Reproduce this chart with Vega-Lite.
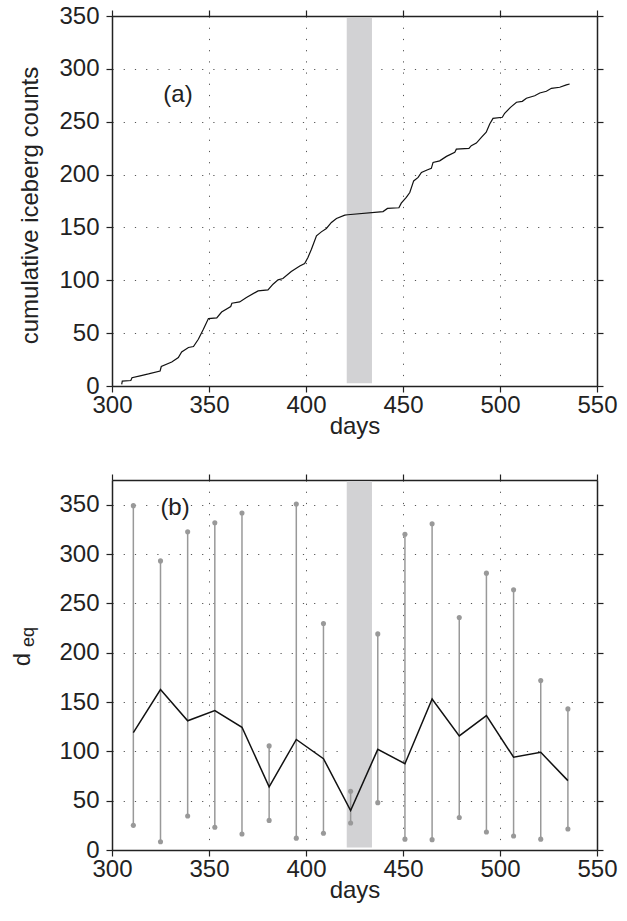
{
  "$schema": "https://vega.github.io/schema/vega-lite/v6.json",
  "padding": {"left": 10, "top": 4, "right": 5, "bottom": 5},
  "background": "white",
  "spacing": 94,
  "bounds": "flush",
  "config": {
    "font": "Liberation Sans",
    "view": {"stroke": null},
    "axis": {
      "domainColor": "#222", "domainWidth": 1.5,
      "tickColor": "#222", "tickWidth": 1.2, "tickSize": 6,
      "labelFontSize": 24, "labelColor": "#222",
      "titleFontSize": 24, "titleFontWeight": "normal", "titleColor": "#222",
      "labelFlush": false, "labelOverlap": false,
      "gridColor": "#555", "gridDash": [1.2, 10], "gridWidth": 1
    }
  },
  "datasets": {
    "cum": [
      {"day": 305.0, "count": 1.6}, {"day": 305.3, "count": 4.7}, {"day": 309.7, "count": 5.2}, {"day": 310.3, "count": 7.9},
      {"day": 314.5, "count": 9.6}, {"day": 318.8, "count": 11.4}, {"day": 324.8, "count": 14.2}, {"day": 325.4, "count": 18.4},
      {"day": 330.8, "count": 22.7}, {"day": 334.2, "count": 26.9}, {"day": 335.9, "count": 32.2}, {"day": 339.4, "count": 36.4},
      {"day": 342.0, "count": 37.3}, {"day": 344.5, "count": 44.2}, {"day": 347.1, "count": 53.7}, {"day": 349.7, "count": 63.8},
      {"day": 354.0, "count": 64.4}, {"day": 356.5, "count": 70.0}, {"day": 361.2, "count": 75.2}, {"day": 361.8, "count": 78.3},
      {"day": 365.8, "count": 79.5}, {"day": 369.3, "count": 83.7}, {"day": 375.3, "count": 90.0}, {"day": 380.4, "count": 90.9},
      {"day": 383.0, "count": 96.3}, {"day": 385.6, "count": 100.4}, {"day": 388.1, "count": 101.7}, {"day": 392.4, "count": 108.3},
      {"day": 396.8, "count": 113.6}, {"day": 399.3, "count": 115.9}, {"day": 401.0, "count": 121.6}, {"day": 402.8, "count": 129.4},
      {"day": 405.4, "count": 142.0}, {"day": 407.9, "count": 145.8}, {"day": 410.5, "count": 149.0}, {"day": 413.1, "count": 154.7},
      {"day": 415.7, "count": 158.5}, {"day": 420.0, "count": 161.6}, {"day": 421.5, "count": 162.0}, {"day": 439.7, "count": 165.0},
      {"day": 442.0, "count": 168.0}, {"day": 447.9, "count": 168.6}, {"day": 449.1, "count": 173.0}, {"day": 451.7, "count": 178.4},
      {"day": 453.5, "count": 183.0}, {"day": 455.5, "count": 194.0}, {"day": 457.8, "count": 197.3}, {"day": 459.5, "count": 202.0},
      {"day": 462.4, "count": 204.3}, {"day": 464.6, "count": 205.9}, {"day": 465.5, "count": 211.5}, {"day": 468.9, "count": 213.0},
      {"day": 472.4, "count": 217.2}, {"day": 476.7, "count": 221.0}, {"day": 477.5, "count": 224.0}, {"day": 484.0, "count": 224.8},
      {"day": 485.2, "count": 227.3}, {"day": 487.8, "count": 229.8}, {"day": 490.4, "count": 235.2}, {"day": 492.9, "count": 240.0},
      {"day": 494.7, "count": 247.8}, {"day": 496.4, "count": 253.2}, {"day": 501.2, "count": 254.2}, {"day": 502.4, "count": 258.0},
      {"day": 505.4, "count": 263.6}, {"day": 508.5, "count": 268.4}, {"day": 511.5, "count": 269.3}, {"day": 513.6, "count": 272.2},
      {"day": 517.9, "count": 274.6}, {"day": 520.5, "count": 277.2}, {"day": 523.9, "count": 278.8}, {"day": 526.5, "count": 281.6},
      {"day": 530.8, "count": 282.6}, {"day": 534.2, "count": 284.8}, {"day": 535.9, "count": 285.7}
    ],
    "deq": [
      {"day": 311, "mean": 119, "lo": 25, "hi": 349},
      {"day": 325, "mean": 162.6, "lo": 8.4, "hi": 293},
      {"day": 339, "mean": 131, "lo": 34.5, "hi": 322.5},
      {"day": 353, "mean": 141.3, "lo": 23, "hi": 331.6},
      {"day": 367, "mean": 124.4, "lo": 16.2, "hi": 341.5},
      {"day": 381, "mean": 64, "lo": 30, "hi": 105.5},
      {"day": 395, "mean": 112, "lo": 12, "hi": 350.6},
      {"day": 409, "mean": 92.6, "lo": 17, "hi": 229.5},
      {"day": 423, "mean": 40, "lo": 27.4, "hi": 59.5},
      {"day": 437, "mean": 102, "lo": 48, "hi": 219},
      {"day": 451, "mean": 87.5, "lo": 11, "hi": 320},
      {"day": 465, "mean": 153, "lo": 10.5, "hi": 330.6},
      {"day": 479, "mean": 115.6, "lo": 33, "hi": 235.6},
      {"day": 493, "mean": 136.2, "lo": 18.3, "hi": 280.6},
      {"day": 507, "mean": 94, "lo": 14.2, "hi": 263.7},
      {"day": 521, "mean": 99, "lo": 11, "hi": 171.7},
      {"day": 535, "mean": 70.3, "lo": 21.3, "hi": 143}
    ]
  },
  "vconcat": [
    {
      "width": 485,
      "height": 370,
      "resolve": {"axis": {"x": "independent", "y": "independent"}},
      "layer": [
        {
          "data": {"values": [{"start": 421, "end": 434, "low": 2.5, "high": 348}]},
          "mark": {"type": "rect", "color": "#d2d2d4"},
          "encoding": {
            "x": {"field": "start", "type": "quantitative", "scale": {"domain": [300, 550], "nice": false, "zero": false},
                  "axis": {"orient": "top", "labels": false, "grid": false, "title": null, "values": [300, 350, 400, 450, 500, 550]}},
            "x2": {"field": "end"},
            "y": {"field": "low", "type": "quantitative", "scale": {"domain": [0, 350], "nice": false},
                  "axis": {"orient": "right", "labels": false, "grid": false, "title": null, "values": [0, 50, 100, 150, 200, 250, 300, 350]}},
            "y2": {"field": "high"}
          }
        },
        {
          "data": {"name": "cum"},
          "mark": {"type": "line", "color": "#111", "strokeWidth": 1.2},
          "encoding": {
            "x": {"field": "day", "type": "quantitative", "scale": {"domain": [300, 550], "nice": false, "zero": false},
                  "axis": {"orient": "bottom", "grid": true, "values": [300, 350, 400, 450, 500, 550], "title": "days", "labelPadding": 1, "titlePadding": -3}},
            "y": {"field": "count", "type": "quantitative", "scale": {"domain": [0, 350], "nice": false},
                  "axis": {"orient": "left", "grid": true, "values": [0, 50, 100, 150, 200, 250, 300, 350], "title": "cumulative iceberg counts",
                           "labelPadding": 7, "titleAngle": 270, "titleX": -75, "titleY": 189, "titleAlign": "center", "titleBaseline": "alphabetic"}}
          }
        },
        {
          "data": {"values": [{"day": 334, "v": 275, "label": "(a)"}]},
          "mark": {"type": "text", "fontSize": 24, "color": "#222", "align": "center", "baseline": "middle"},
          "encoding": {
            "x": {"field": "day", "type": "quantitative", "axis": null},
            "y": {"field": "v", "type": "quantitative", "axis": null},
            "text": {"field": "label"}
          }
        }
      ]
    },
    {
      "width": 485,
      "height": 370,
      "resolve": {"axis": {"x": "independent", "y": "independent"}},
      "layer": [
        {
          "data": {"values": [{"start": 421, "end": 434, "low": 2.5, "high": 374}]},
          "mark": {"type": "rect", "color": "#d2d2d4"},
          "encoding": {
            "x": {"field": "start", "type": "quantitative", "scale": {"domain": [300, 550], "nice": false, "zero": false},
                  "axis": {"orient": "top", "labels": false, "grid": false, "title": null, "values": [300, 350, 400, 450, 500, 550]}},
            "x2": {"field": "end"},
            "y": {"field": "low", "type": "quantitative", "scale": {"domain": [0, 375], "nice": false},
                  "axis": {"orient": "right", "labels": false, "grid": false, "values": [0, 50, 100, 150, 200, 250, 300, 350],
                           "title": "eq", "titleFontSize": 18, "titleAngle": 270, "titleX": -563.5, "titleY": 156.5, "titleAlign": "center", "titleBaseline": "alphabetic"}},
            "y2": {"field": "high"}
          }
        },
        {
          "data": {"name": "deq"},
          "mark": {"type": "rule", "color": "#999999", "strokeWidth": 1.5},
          "encoding": {
            "x": {"field": "day", "type": "quantitative", "scale": {"domain": [300, 550], "nice": false, "zero": false},
                  "axis": {"orient": "bottom", "grid": true, "values": [300, 350, 400, 450, 500, 550], "title": "days", "labelPadding": 1, "titlePadding": -3}},
            "y": {"field": "lo", "type": "quantitative", "scale": {"domain": [0, 375], "nice": false},
                  "axis": {"orient": "left", "grid": true, "values": [0, 50, 100, 150, 200, 250, 300, 350], "title": "d",
                           "labelPadding": 7, "titleAngle": 270, "titleX": -82.3, "titleY": 179, "titleAlign": "center", "titleBaseline": "alphabetic"}},
            "y2": {"field": "hi"}
          }
        },
        {
          "data": {"name": "deq"},
          "mark": {"type": "point", "filled": true, "size": 26, "color": "#999999", "opacity": 1},
          "encoding": {
            "x": {"field": "day", "type": "quantitative", "axis": null},
            "y": {"field": "lo", "type": "quantitative", "axis": null}
          }
        },
        {
          "data": {"name": "deq"},
          "mark": {"type": "point", "filled": true, "size": 26, "color": "#999999", "opacity": 1},
          "encoding": {
            "x": {"field": "day", "type": "quantitative", "axis": null},
            "y": {"field": "hi", "type": "quantitative", "axis": null}
          }
        },
        {
          "data": {"name": "deq"},
          "mark": {"type": "line", "color": "#111", "strokeWidth": 1.5},
          "encoding": {
            "x": {"field": "day", "type": "quantitative", "axis": null},
            "y": {"field": "mean", "type": "quantitative", "axis": null}
          }
        },
        {
          "data": {"values": [{"day": 332.5, "v": 347, "label": "(b)"}]},
          "mark": {"type": "text", "fontSize": 24, "color": "#222", "align": "center", "baseline": "middle"},
          "encoding": {
            "x": {"field": "day", "type": "quantitative", "axis": null},
            "y": {"field": "v", "type": "quantitative", "axis": null},
            "text": {"field": "label"}
          }
        }
      ]
    }
  ]
}
